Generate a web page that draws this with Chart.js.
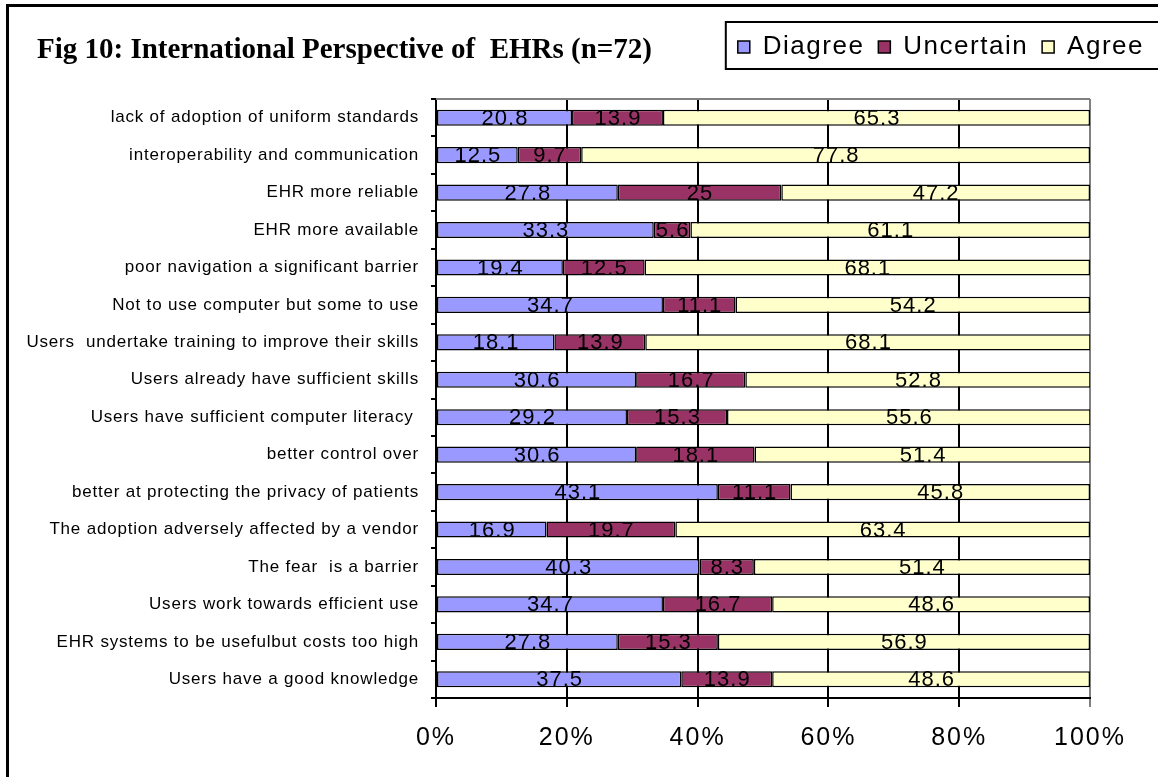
<!DOCTYPE html>
<html>
<head>
<meta charset="utf-8">
<script src="https://cdn.jsdelivr.net/npm/chart.js@4"></script>
<style>
	html, body { margin: 0; padding: 0; background: #fff; overflow: hidden; }
	#frame { position: absolute; left: 6px; top: 4px; width: 1300px; height: 900px; border: 3px solid #000; box-sizing: border-box; }
	#title { position: absolute; left: 37px; top: 34px; font: bold 29px "Liberation Serif", "Times New Roman", serif; line-height: 29px; white-space: pre; color: #000; z-index: 2; }
	#chart { position: absolute; left: 0; top: 0; z-index: 1; }
</style>
</head>
<body>
<div id="frame"></div>
<div id="title">Fig 10: International Perspective of  EHRs (n=72)</div>
<canvas id="chart" width="1158" height="777"></canvas>
<script>
const categories = [
	'lack of adoption of uniform standards',
	'interoperability and communication',
	'EHR more reliable',
	'EHR more available',
	'poor navigation a significant barrier',
	'Not to use computer but some to use',
	'Users  undertake training to improve their skills',
	'Users already have sufficient skills',
	'Users have sufficient computer literacy ',
	'better control over',
	'better at protecting the privacy of patients',
	'The adoption adversely affected by a vendor',
	'The fear  is a barrier',
	'Users work towards efficient use',
	'EHR systems to be usefulbut costs too high',
	'Users have a good knowledge'
];
const diagree = [20.8, 12.5, 27.8, 33.3, 19.4, 34.7, 18.1, 30.6, 29.2, 30.6, 43.1, 16.9, 40.3, 34.7, 27.8, 37.5];
const uncertain = [13.9, 9.7, 25, 5.6, 12.5, 11.1, 13.9, 16.7, 15.3, 18.1, 11.1, 19.7, 8.3, 16.7, 15.3, 13.9];
const agree = [65.3, 77.8, 47.2, 61.1, 68.1, 54.2, 68.1, 52.8, 55.6, 51.4, 45.8, 63.4, 51.4, 48.6, 56.9, 48.6];
const tickLabels = ['0%', '20%', '40%', '60%', '80%', '100%'];

const sans = '"Liberation Sans", Arial, sans-serif';

// the original picture has loose letter spacing; wrap a drawing method to add it
function spaced(obj, method, amount) {
	const key = '_spaced_' + method;
	if (obj[key]) return;
	const orig = obj[method];
	obj[method] = function (...args) {
		const c = this.ctx;
		const prev = c.letterSpacing;
		c.letterSpacing = amount;
		const r = orig.apply(this, args);
		c.letterSpacing = prev;
		return r;
	};
	obj[key] = true;
}

// extra room under the legend, plus spacing for its text
const legendTweaks = {
	id: 'legendTweaks',
	beforeLayout(chart) {
		const legend = chart.legend;
		if (!legend || legend._gapped) return;
		const fit = legend.fit;
		legend.fit = function () {
			fit.call(this);
			this.height += 29;
		};
		legend._gapped = true;
		spaced(legend, 'fit', '1.5px');
		spaced(legend, 'draw', '1.5px');
	}
};

const decorations = {
	id: 'decorations',
	beforeDatasetsDraw(chart) {
		const { ctx, chartArea: a } = chart;
		ctx.save();
		ctx.strokeStyle = '#808080';
		ctx.lineWidth = 2;
		ctx.beginPath();
		ctx.moveTo(a.left, a.top);
		ctx.lineTo(a.right, a.top);
		ctx.stroke();
		ctx.restore();
	},
	afterDatasetsDraw(chart) {
		const ctx = chart.ctx;
		ctx.save();
		ctx.fillStyle = '#000';
		ctx.font = '22px ' + sans;
		ctx.letterSpacing = '1px';
		ctx.textAlign = 'center';
		ctx.textBaseline = 'middle';
		chart.data.datasets.forEach((ds, di) => {
			chart.getDatasetMeta(di).data.forEach((bar, i) => {
				ctx.fillText(String(ds.data[i]), (bar.x + bar.base) / 2 + 0.5, bar.y + 1);
			});
		});
		ctx.restore();
	},
	afterDraw(chart) {
		const ctx = chart.ctx;
		const boxes = chart.legend.legendHitBoxes || [];
		const left = boxes.length ? boxes[0].left - 12 : 733;
		ctx.save();
		ctx.strokeStyle = '#000';
		ctx.lineWidth = 2;
		ctx.strokeRect(left, 22, chart.width - left + 10, 47);
		ctx.restore();
	}
};

const ctx = document.getElementById('chart').getContext('2d');

// eslint-disable-next-line no-undef
new Chart(ctx, {
	type: 'bar',
	data: {
		labels: categories,
		datasets: [
			{ label: 'Diagree', data: diagree, backgroundColor: '#9999FF' },
			{ label: 'Uncertain', data: uncertain, backgroundColor: '#993366' },
			{ label: 'Agree', data: agree, backgroundColor: '#FFFFCC' }
		].map(ds => Object.assign(ds, {
			borderColor: '#000',
			borderWidth: 1.5,
			borderSkipped: false,
			barPercentage: 0.43,
			categoryPercentage: 1
		}))
	},
	options: {
		indexAxis: 'y',
		responsive: false,
		animation: false,
		layout: { padding: { top: 20, left: 0, right: 0, bottom: 0 } },
		plugins: {
			legend: {
				position: 'top',
				align: 'end',
				labels: {
					boxWidth: 12,
					boxHeight: 12,
					padding: 14,
					color: '#000',
					font: { family: sans, size: 26 }
				}
			},
			title: { display: false },
			tooltip: { enabled: false }
		},
		scales: {
			x: {
				stacked: true,
				min: 0,
				max: 100,
				ticks: {
					stepSize: 20,
					maxRotation: 0,
					padding: 16,
					color: '#000',
					font: { family: sans, size: 25 },
					callback: (value, i) => tickLabels[i]
				},
				grid: {
					color: c => (c.index === 5 ? '#808080' : '#000'),
					lineWidth: 2,
					tickLength: 9
				},
				border: { color: '#000', width: 2 },
				afterFit(scale) {
					scale.height = 79;
					scale.paddingRight = 68;
					spaced(scale, 'drawLabels', '2px');
				}
			},
			y: {
				stacked: true,
				ticks: {
					autoSkip: false,
					padding: 12,
					color: '#000',
					font: { family: sans, size: 17 }
				},
				grid: {
					drawOnChartArea: false,
					tickLength: 5,
					color: '#000',
					lineWidth: 2
				},
				border: { color: '#000', width: 2 },
				afterFit(scale) {
					scale.width = 436;
					spaced(scale, 'drawLabels', '0.8px');
				}
			}
		}
	},
	plugins: [legendTweaks, decorations]
});
</script>
</body>
</html>
